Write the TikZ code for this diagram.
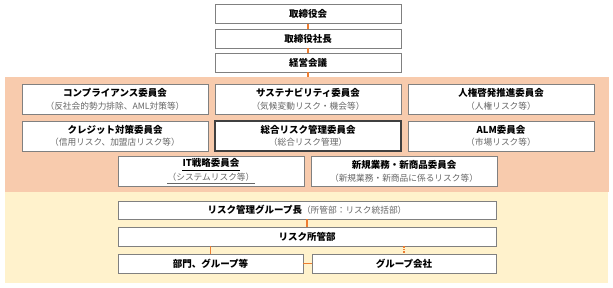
\documentclass[tikz,border=0pt]{standalone}
\usepackage{fontspec}
\setmainfont{Noto Sans CJK JP}
\usepackage{xcolor}
\usepackage{tikz}
\definecolor{cmtfill}{HTML}{F8CBAD}
\definecolor{opsfill}{HTML}{FFF2CC}
\definecolor{boxline}{HTML}{808080}
\definecolor{keyline}{HTML}{404040}
\definecolor{linkc}{HTML}{ED7D31}
\definecolor{subtxt}{HTML}{666666}
\tikzset{
  orgbox/.style={draw=boxline, fill=white, line width=0.8pt, minimum width=186pt, minimum height=#1,
               inner sep=1pt, align=center, font=\fontsize{9.5}{12.5}\selectfont},
  orgbox/.default=19pt,
  keybox/.style={orgbox=30pt, draw=keyline, line width=1.5pt},
  zone/.style={fill=#1, draw=none, inner sep=0pt, anchor=north west},
  link/.style={draw=linkc, line width=1.1pt},
  weaklink/.style={link, dash pattern=on 1.5pt off 1pt},
  headtxt/.style={inner sep=0pt, anchor=base, font=\fontsize{9.5}{12.5}\selectfont\bfseries},
  subline/.style={inner sep=0pt, anchor=base, text=subtxt, font=\fontsize{8.7}{11}\selectfont},
  uline/.style={line width=0.7pt, draw=#1},
  uline/.default=black,
}
\def\cA{115}
\def\cB{308}
\def\cC{501}
\def\rA{99.5}
\def\rB{136}
\def\rC{171.5}
\newcommand{\cmt}[2]{\textbf{#1}\\{\color{subtxt}\fontsize{8.7}{11}\selectfont #2}}

\begin{document}
\begin{tikzpicture}[x=1pt, y=-1pt]
  \useasboundingbox (0,0) rectangle (613,288);
  % background bands
  \node[zone=cmtfill, minimum width=604pt, minimum height=115pt] (cmtzone) at (5,77) {};
  \node[zone=opsfill, minimum width=603pt, minimum height=91pt] (opszone) at (5,192) {};
  % executive chain
  \node[orgbox] (board) at (\cB,14) {\textbf{取締役会}};
  \node[orgbox] (pres) at (\cB,38.5) {\textbf{取締役社長}};
  \node[orgbox] (mgmt) at (\cB,62.5) {\textbf{経営会議}};
  % committees
  \node[orgbox=30pt] (comp) at (\cA,\rA) {\cmt{コンプライアンス委員会}{（反社会的勢力排除、AML対策等）}};
  \node[orgbox=30pt] (sust) at (\cB,\rA) {\cmt{サステナビリティ委員会}{（気候変動リスク・機会等）}};
  \node[orgbox=30pt] (hrts) at (\cC,\rA) {\cmt{人権啓発推進委員会}{（人権リスク等）}};
  \node[orgbox=30pt] (cred) at (\cA,\rB) {\cmt{クレジット対策委員会}{（信用リスク、加盟店リスク等）}};
  \node[keybox] (erm) at (\cB,\rB) {\cmt{総合リスク管理委員会}{（総合リスク管理）}};
  \node[orgbox=30pt] (alm) at (\cC,\rB) {\cmt{ALM委員会}{（市場リスク等）}};
  \node[orgbox=30pt] (itsc) at (211,\rC) {};
  \node[headtxt] (ittitle) at (211,167) {IT戦略委員会};
  \node[subline] (itsub) at (211,180.5) {（システムリスク等）};
  \draw[uline] ([yshift=-3.2pt]ittitle.base west) -- ([yshift=-3.2pt]ittitle.base east);
  \draw[uline=subtxt] ([yshift=-2.6pt]itsub.base west) -- ([yshift=-2.6pt]itsub.base east);
  \node[orgbox=30pt] (newb) at (404,\rC) {\cmt{新規業務・新商品委員会}{（新規業務・新商品に係るリスク等）}};
  % risk management line
  \node[orgbox=18pt, minimum width=378pt] (rmhead) at (307,210)
    {\textbf{リスク管理グループ長}{\color{subtxt}\fontsize{8.7}{11}\selectfont（所管部：リスク統括部）}};
  \node[orgbox, minimum width=378pt] (rmdept) at (307,236.5) {\textbf{リスク所管部}};
  \node[orgbox, minimum width=185pt] (unitdept) at (210.5,263.5) {\textbf{部門、グループ等}};
  \node[orgbox, minimum width=184pt] (grpco) at (404,263.5) {\textbf{グループ会社}};
  \draw[link] (board) -- (pres);
  \draw[link] (pres) -- (mgmt);
  \draw[link] (mgmt) -- (mgmt.south |- cmtzone.north);
  \draw[link] (rmhead) -- (rmdept);
  \draw[link] (rmdept.south -| unitdept) -- (unitdept);
  \draw[weaklink] (rmdept.south -| grpco) -- (grpco);
  \draw[link] (unitdept) -- (grpco);
\end{tikzpicture}
\end{document}
